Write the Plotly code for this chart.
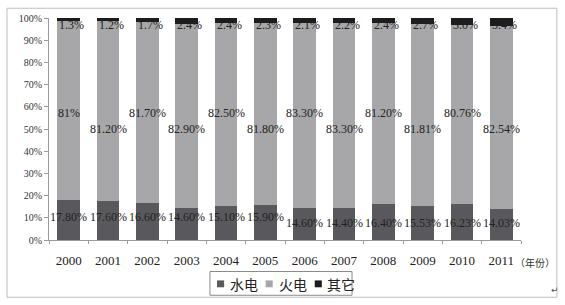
import plotly.graph_objects as go

# ---- data ----
years = ["2000", "2001", "2002", "2003", "2004", "2005",
         "2006", "2007", "2008", "2009", "2010", "2011"]
hydro = [17.80, 17.60, 16.60, 14.60, 15.10, 15.90, 14.60, 14.40, 16.40, 15.53, 16.23, 14.03]
thermal = [81.00, 81.20, 81.70, 82.90, 82.50, 81.80, 83.30, 83.30, 81.20, 81.81, 80.76, 82.54]
other = [1.3, 1.2, 1.7, 2.4, 2.4, 2.3, 2.1, 2.2, 2.4, 2.7, 3.0, 3.4]
hydro_labels = ["17.80%", "17.60%", "16.60%", "14.60%", "15.10%", "15.90%",
                "14.60%", "14.40%", "16.40%", "15.53%", "16.23%", "14.03%"]
thermal_labels = ["81%", "81.20%", "81.70%", "82.90%", "82.50%", "81.80%",
                  "83.30%", "83.30%", "81.20%", "81.81%", "80.76%", "82.54%"]
other_labels = ["1.3%", "1.2%", "1.7%", "2.4%", "2.4%", "2.3%",
                "2.1%", "2.2%", "2.4%", "2.7%", "3.0%", "3.4%"]
series_names = ["水电", "火电", "其它"]
y_ticks = [0, 10, 20, 30, 40, 50, 60, 70, 80, 90, 100]
x_unit = "（年份）"

# ---- style ----
colors = ["#59595d", "#a7a7a9", "#1c1c1c"]
label_font = dict(family="Liberation Serif, Times New Roman, serif", size=12, color="#222")

fig = go.Figure()
for name, vals, col in zip(series_names, [hydro, thermal, other], colors):
    fig.add_trace(go.Bar(x=years, y=vals, name=name, marker=dict(color=col, line=dict(width=0)),
                         showlegend=False, hoverinfo="skip"))

annotations = []
for i, yr in enumerate(years):
    # hydro labels
    annotations.append(dict(x=i, y=10.5 if i < 6 else 7.5, xref="x", yref="y",
                            text=hydro_labels[i], showarrow=False, font=label_font))
    # thermal labels alternate in height
    annotations.append(dict(x=i, y=57 if i % 2 == 0 else 50, xref="x", yref="y",
                            text=thermal_labels[i], showarrow=False, font=label_font))
    # other labels near the top
    annotations.append(dict(x=i, y=96.8, xref="x", yref="y", xshift=3,
                            text=other_labels[i], showarrow=False, font=label_font))

# unit label next to the last year
annotations.append(dict(x=1.03, y=-0.10, xref="paper", yref="paper", xanchor="center",
                        yanchor="middle", text=x_unit, showarrow=False,
                        font=dict(family="Noto Sans CJK SC", size=10, color="#333")))
# paragraph mark in the corner
annotations.append(dict(x=1.085, y=-0.258, xref="paper", yref="paper", text="↵",
                        showarrow=False, font=dict(family="DejaVu Sans", size=9, color="#555")))

# custom legend
shapes = []
shapes.append(dict(type="rect", xref="paper", yref="paper", x0=-0.089, x1=1.076,
                   y0=-0.258, y1=1.044, line=dict(color="#bdbdbd", width=1)))
shapes.append(dict(type="rect", xref="paper", yref="paper", x0=0.341, x1=0.642,
                   y0=-0.249, y1=-0.142, line=dict(color="#8a8a8a", width=1)))
sq_x = [0.356, 0.459, 0.563]
tx_x = [0.379, 0.483, 0.585]
for name, col, sx, tx in zip(series_names, colors, sq_x, tx_x):
    shapes.append(dict(type="rect", xref="paper", yref="paper", x0=sx, x1=sx + 0.015,
                       y0=-0.213, y1=-0.182, fillcolor=col, line=dict(width=0)))
    annotations.append(dict(x=tx, y=-0.197, xref="paper", yref="paper", xanchor="left",
                            yanchor="middle", text=name, showarrow=False,
                            font=dict(family="Noto Sans CJK SC", size=14, color="#222")))

fig.update_layout(
    width=565, height=305,
    margin=dict(l=49, r=44, t=15, b=65),
    paper_bgcolor="white", plot_bgcolor="white",
    barmode="stack", bargap=0.43,
    annotations=annotations, shapes=shapes,
    xaxis=dict(type="category", categoryorder="array", categoryarray=years,
               range=[-0.5, len(years) - 0.5], showline=True, linecolor="#9a9a9a", linewidth=1,
               ticks="outside", tickson="boundaries", ticklen=3, tickcolor="#9a9a9a",
               showgrid=False, ticklabelstandoff=8, tickangle=0,
               tickfont=dict(family="Liberation Serif, Times New Roman, serif", size=13, color="#222")),
    yaxis=dict(range=[0, 100], tickvals=y_ticks, ticktext=[f"{v}%" for v in y_ticks],
               showline=True, linecolor="#9a9a9a", linewidth=1, ticks="outside",
               ticklen=4, tickcolor="#9a9a9a", showgrid=False, zeroline=False,
               tickfont=dict(family="Liberation Serif, Times New Roman, serif", size=10, color="#333")),
)

fig.write_html("out.html")
